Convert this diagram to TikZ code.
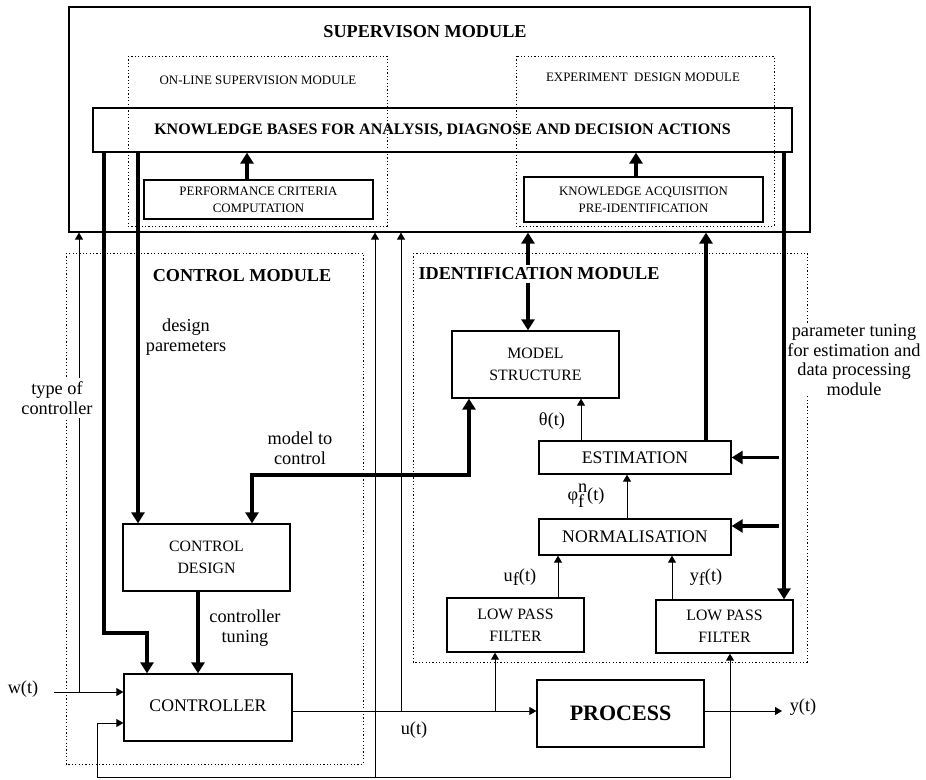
\documentclass[tikz,border=0pt]{standalone}
\usepackage{fontspec}
\setmainfont{Liberation Serif}
\usetikzlibrary{arrows.meta}
\newcommand\fsTitle{\fontsize{18.2}{20}\selectfont\bfseries}
\newcommand\fsKB{\fontsize{16}{18}\selectfont\bfseries}
\newcommand\fsProc{\fontsize{22}{24}\selectfont\bfseries}
\newcommand\fsSmall{\fontsize{12.9}{16.8}\selectfont}
\newcommand\fsBox{\fontsize{15.8}{22}\selectfont}
\newcommand\fsBig{\fontsize{17.7}{20}\selectfont}
\newcommand\fsLbl{\fontsize{18.3}{19.5}\selectfont}
\newcommand\lowf{\raisebox{-0.45ex}{f}}
\begin{document}
\begin{tikzpicture}[x=1pt,y=-1pt,
  box/.style={draw, line width=1.3pt, align=center, inner sep=0pt},
  dotbox/.style={draw, line width=0.8pt, dash pattern=on 1.2pt off 2.2pt},
  sig/.style={line width=0.9pt, -{Triangle[length=7pt,width=8pt]}},
  sigboth/.style={line width=0.9pt, {Triangle[length=7pt,width=8pt]}-{Triangle[length=7pt,width=8pt]}},
  thk/.style={line width=3.2pt, -{Triangle[length=11pt,width=13pt]}},
  thkboth/.style={line width=3.2pt, {Triangle[length=11pt,width=13pt]}-{Triangle[length=11pt,width=13pt]}},
  lbl/.style={align=center, font=\fsLbl, inner sep=0.5pt},
]
\useasboundingbox (0,0) rectangle (926,779);

% supervision module frame and its dotted sub-modules
\node[draw, line width=1.2pt, minimum width=741pt, minimum height=225pt, inner sep=0pt] (sup) at (439.5,119.5) {};
\node[font=\fsTitle] (suptitle) at (425,32) {SUPERVISON MODULE};
\draw[dotbox] (128,56) rectangle (387,226);
\draw[dotbox] (516,56) rectangle (774,226);
\node[font=\fsSmall] (onlinetitle) at (258,80) {ON-LINE SUPERVISION MODULE};
\node[font=\fsSmall] (exptitle) at (643,77) {EXPERIMENT\ \ DESIGN MODULE};

% control and identification module frames
\draw[dotbox] (66,253) rectangle (363,764);
\draw[dotbox] (413,253) rectangle (807,662);
\node[font=\fsTitle] (ctrltitle) at (242,276) {CONTROL MODULE};

% blocks
\node[box, font=\fsKB, minimum width=699pt, minimum height=44pt] (kb) at (442.5,130) {KNOWLEDGE BASES FOR ANALYSIS, DIAGNOSE AND DECISION ACTIONS};
\node[box, font=\fsSmall, minimum width=229pt, minimum height=39pt] (perf) at (258.5,199.5) {PERFORMANCE CRITERIA\\COMPUTATION};
\node[box, font=\fsSmall, minimum width=239pt, minimum height=45pt] (kacq) at (643.5,199.5) {KNOWLEDGE ACQUISITION\\PRE-IDENTIFICATION};
\node[box, font=\fsBox, minimum width=167pt, minimum height=67pt] (cdes) at (206.5,557.5) {CONTROL\\DESIGN};
\node[box, font=\fsBig, minimum width=168pt, minimum height=67pt] (ctrl) at (208,707.5) {\raisebox{3pt}{CONTROLLER}};
\node[box, font=\fsBox, minimum width=167pt, minimum height=67pt] (model) at (535.5,364.5) {MODEL\\STRUCTURE};
\node[box, font=\fsBig, minimum width=192pt, minimum height=33pt] (est) at (635,457.5) {ESTIMATION};
\node[box, font=\fsBig, minimum width=192pt, minimum height=36pt] (norm) at (635,537) {NORMALISATION};
\node[box, font=\fsBox, minimum width=137pt, minimum height=54pt] (lpfa) at (515.5,625) {LOW PASS\\FILTER};
\node[box, font=\fsBox, minimum width=137pt, minimum height=53pt] (lpfb) at (724.5,626.5) {LOW PASS\\FILTER};
\node[box, font=\fsProc, minimum width=167pt, minimum height=67pt] (proc) at (620.5,713.5) {PROCESS};

% knowledge flows inside the supervision module
\draw[thk] (247,0 |- perf.north) -- (247,0 |- kb.south);
\draw[thk] (636,0 |- kacq.north) -- (636,0 |- kb.south);

% supervision to control
\draw[thk] (104,0 |- kb.south) -- (104,633) -- (147,633) -- (147,0 |- ctrl.north);
\draw[thk] (138,0 |- kb.south) -- (138,0 |- cdes.north);
\draw[thkboth] (252,0 |- cdes.north) -- (252,475) -- (469,475) -- (469,0 |- model.south);
\draw[thk] (198,0 |- cdes.south) -- (198,0 |- ctrl.north);

% signals around the controller
\coordinate (win) at (54,692);
\draw[sig] (win) -- (ctrl.west |- win);
\draw[sig] (79,0 |- win) -- (79,0 |- sup.south);
\coordinate (fbl) at (97,777);
\coordinate (fbr) at (730,777);
\draw[sigboth] (ctrl.west |- 0,723) -- (fbl |- 0,723) -- (fbl) -- (fbr) -- (fbr |- lpfb.south);
\draw[sig] (375,0 |- fbl) -- (375,0 |- sup.south);
\coordinate (uline) at (0,711);
\draw[sig] (ctrl.east |- uline) -- (proc.west |- uline);
\draw[sig] (495,0 |- uline) -- (495,0 |- lpfa.south);
\draw[sig] (401,0 |- uline) -- (401,0 |- sup.south);
\coordinate (yout) at (782,711);
\draw[sig] (proc.east |- yout) -- (yout);

% identification chain
\draw[sig] (581,0 |- est.north) -- (581,0 |- model.south);
\draw[sig] (627,0 |- norm.north) -- (627,0 |- est.south);
\draw[sig] (558,0 |- lpfa.north) -- (558,0 |- norm.south);
\draw[sig] (672,0 |- lpfb.north) -- (672,0 |- norm.south);
\draw[thkboth] (528,0 |- sup.south) -- (528,0 |- model.north);
\draw[thk] (706,0 |- est.north) -- (706,0 |- sup.south);
\draw[thk] (784,0 |- kb.south) -- (784,0 |- lpfb.north);
\draw[thk] (779,0 |- est.east) -- (est.east);
\draw[thk] (779,526) -- (norm.east |- 0,526);

% labels drawn over the lines
\node[font=\fsTitle, fill=white, inner sep=3pt] (idtitle) at (539,274) {IDENTIFICATION MODULE};
\node[lbl, fill=white, inner ysep=4pt] (ltype) at (57,398) {type of\\controller};
\node[lbl, fill=white] (lparam) at (854,360) {parameter tuning\\for estimation and\\data processing\\module};
\node[lbl] (ldesign) at (186,337) {design\\paremeters};
\node[lbl] (lmodel) at (300,448) {model to\\control};
\node[lbl] (ltuning) at (245,628) {controller\\tuning};
\node[lbl] (lw) at (23,689) {w(t)};
\node[lbl] (lu) at (414,730) {u(t)};
\node[lbl] (ly) at (803,707) {y(t)};
\node[lbl] (ltheta) at (552,421) {θ(t)};
\node[lbl] (lphi) at (586,496) {φ\rlap{\raisebox{-0.8ex}{f}}\raisebox{0.95ex}{n}(t)};
\node[lbl] (luf) at (520,577) {u\lowf(t)};
\node[lbl] (lyf) at (706,577) {y\lowf(t)};
\end{tikzpicture}
\end{document}
